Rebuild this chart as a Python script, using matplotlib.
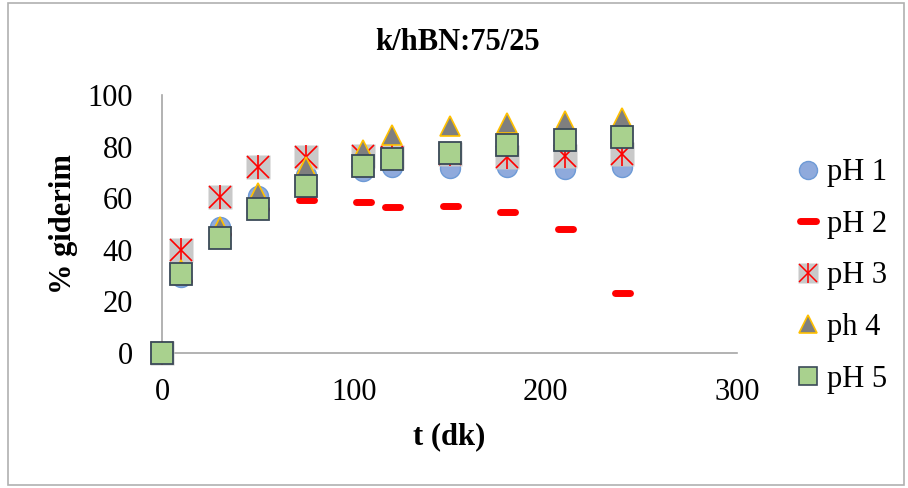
import matplotlib.pyplot as plt
from matplotlib.lines import Line2D
from matplotlib.markers import MarkerStyle
from matplotlib.patches import Rectangle
from matplotlib.legend_handler import HandlerTuple

plt.rcParams['font.family'] = ['Liberation Serif', 'DejaVu Serif']

# time (dk) and % giderim for each pH
t = [0, 10, 30, 50, 75, 105, 120, 150, 180, 210, 240]
ph1 = [0, 29.5, 49, 61, 69, 70.5, 72, 71.7, 72.1, 71.3, 72.1]
ph2 = [0, 28, 46, 56, 59.3, 58.5, 56.6, 57, 54.7, 48, 23.3]
ph3 = [0, 40, 60.5, 72, 76, 76.5, 76, 77, 76, 76.5, 77]
ph4 = [0, 32, 49, 62, 72, 78.5, 84.5, 87.8, 89, 90.1, 90.9]
ph5 = [0, 30.6, 44.6, 56, 64.7, 72.5, 75.2, 77.5, 80.6, 82.4, 83.7]
labels = ['pH 1', 'pH 2', 'pH 3', 'ph 4', 'pH 5']

W, H = 908, 488
fig = plt.figure(figsize=(W/100, H/100), dpi=100)
ax = fig.add_axes([162/W, 1-353/H, 575/W, 258/H])

dash = MarkerStyle('_', capstyle='round')

ax.plot(t, ph1, ls='none', marker='o', ms=14.4, mfc='#8faadc', mec='#6d9ad6', mew=1, clip_on=False, zorder=3)
ax.plot(t, ph2, ls='none', marker=dash, ms=10.8, mec='#ff0000', mew=5, clip_on=False, zorder=4)
ax.plot(t, ph3, ls='none', marker='s', ms=17, mfc='#c9c9c9', mec='none', clip_on=False, zorder=5)
ax.plot(t, ph3, ls='none', marker='x', ms=16, mec='#ff0000', mew=1.2, clip_on=False, zorder=5)
ax.plot(t, ph3, ls='none', marker='|', ms=17, mec='#ff0000', mew=1.2, clip_on=False, zorder=5)
ax.plot(t, ph4, ls='none', marker='^', ms=15, mfc='#7f7f7f', mec='#ffc000', mew=1.2, clip_on=False, zorder=6)
ax.plot(t, ph5, ls='none', marker='s', ms=15.5, mfc='#a9d18e', mec='#3b4a58', mew=1.3, clip_on=False, zorder=7)

ax.set_xlim(0, 300)
ax.set_ylim(0, 100)
ax.set_xticks([0, 100, 200, 300])
ax.set_yticks([0, 20, 40, 60, 80, 100])
ax.tick_params(length=0, labelsize=22)
ax.tick_params(axis='y', pad=21)
ax.tick_params(axis='x', pad=18)
for s in ['top', 'right']:
    ax.spines[s].set_visible(False)
for s in ['left', 'bottom']:
    ax.spines[s].set_color('#a6a6a6')
    ax.spines[s].set_linewidth(1.2)

ax.set_xlabel('t (dk)', fontsize=22, fontweight='bold', va='center')
ax.xaxis.set_label_coords(0.5, (353-437)/258)
ax.set_ylabel('% giderim', fontsize=22, fontweight='bold', va='center')
ax.yaxis.set_label_coords((64-162)/575, 0.5)

fig.text(458/W, 1-43/H, 'k/hBN:75/25', fontsize=22, fontweight='bold', ha='center', va='center')

# legend
h1 = Line2D([], [], ls='none', marker='o', ms=13, mfc='#8faadc', mec='#6d9ad6', mew=1)
h2 = Line2D([], [], ls='none', marker=dash, ms=11, mec='#ff0000', mew=5)
h3a = Line2D([], [], ls='none', marker='s', ms=14, mfc='#c9c9c9', mec='none')
h3b = Line2D([], [], ls='none', marker='x', ms=13, mec='#ff0000', mew=1.1)
h3c = Line2D([], [], ls='none', marker='|', ms=14, mec='#ff0000', mew=1.1)
h4 = Line2D([], [], ls='none', marker='^', ms=13, mfc='#7f7f7f', mec='#ffc000', mew=1.2)
h5 = Line2D([], [], ls='none', marker='s', ms=13, mfc='#a9d18e', mec='#3b4a58', mew=1.2)
fig.legend([h1, h2, (h3a, h3b, h3c), h4, h5], labels,
           handler_map={tuple: HandlerTuple(ndivide=1)},
           loc='center left', bbox_to_anchor=(796/W, 1-276/H),
           frameon=False, fontsize=22, handlelength=0.8, handletextpad=0.2,
           labelspacing=0.74, borderpad=0, borderaxespad=0)

fig.patches.append(Rectangle((8/W, 3/H), 896/W, 482/H, transform=fig.transFigure,
                             fill=False, ec='#b0b0b0', lw=1.2))

fig.savefig('out.png', dpi=100)
